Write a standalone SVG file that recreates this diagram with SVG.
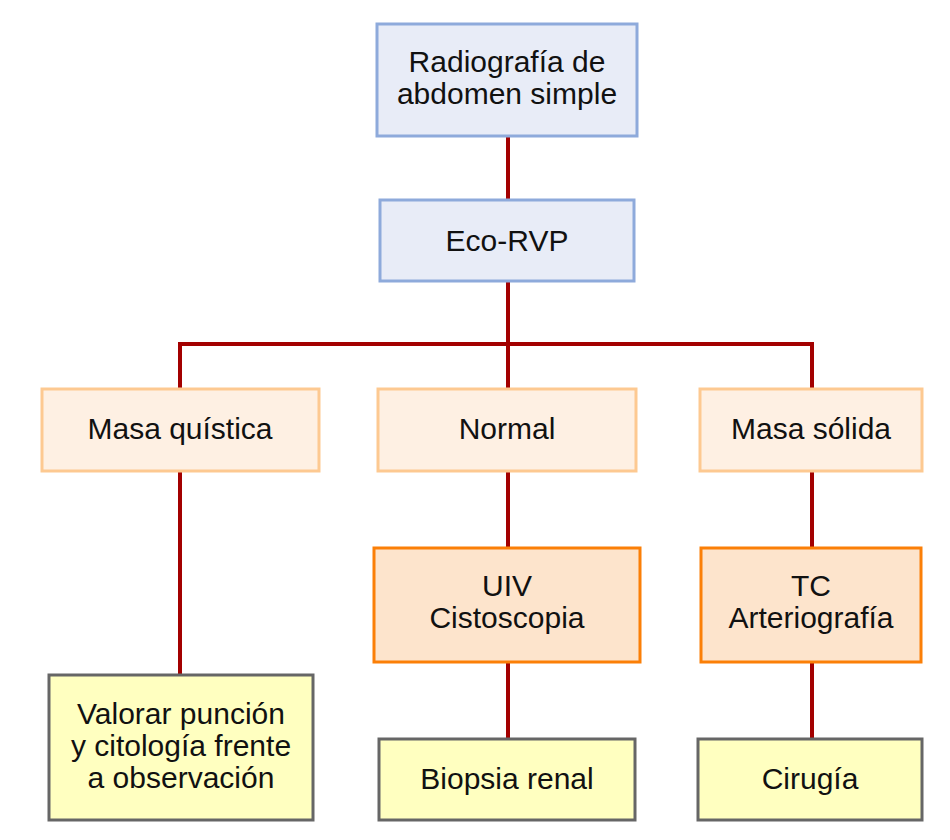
<svg xmlns="http://www.w3.org/2000/svg" width="950" height="840" viewBox="0 0 950 840">
<style>
text{font-family:"Liberation Sans",Arial,sans-serif;font-size:30px;fill:#111;text-anchor:middle}
.blue{fill:#e8ecf7;stroke:#8eaadb;stroke-width:3}
.peach{fill:#fef0e3;stroke:#fdc991;stroke-width:3}
.orange{fill:#fde4cc;stroke:#fb7f07;stroke-width:3}
.yellow{fill:#ffffc0;stroke:#666;stroke-width:3}
.c{fill:none;stroke:#a30000;stroke-width:4}
</style>
<rect width="950" height="840" fill="#fff"/>
<g id="connectors">
<path class="c" d="M508 136V200M508 281V389M180 389V344H812V389M508 471V548M508 662V739M180 471V675M812 471V548M812 662V739"/>
</g>
<g id="n1"><rect class="blue" x="377" y="24" width="260" height="112"/><text x="507" y="72">Radiografía de</text><text x="507" y="104">abdomen simple</text></g>
<g id="n2"><rect class="blue" x="380" y="200" width="254" height="81"/><text x="507" y="251">Eco-RVP</text></g>
<g id="n3"><rect class="peach" x="42" y="389" width="277" height="82"/><text x="180" y="439">Masa quística</text></g>
<g id="n4"><rect class="peach" x="378" y="389" width="258" height="82"/><text x="507" y="439">Normal</text></g>
<g id="n5"><rect class="peach" x="700" y="389" width="222" height="82"/><text x="811" y="439">Masa sólida</text></g>
<g id="n6"><rect class="orange" x="374" y="548" width="266" height="114"/><text x="507" y="596">UIV</text><text x="507" y="628">Cistoscopia</text></g>
<g id="n7"><rect class="orange" x="701" y="548" width="220" height="114"/><text x="811" y="596">TC</text><text x="811" y="628">Arteriografía</text></g>
<g id="n8"><rect class="yellow" x="49" y="675" width="264" height="145"/><text x="181" y="724">Valorar punción</text><text x="181" y="756">y citología frente</text><text x="181" y="788">a observación</text></g>
<g id="n9"><rect class="yellow" x="379" y="739" width="256" height="81"/><text x="507" y="789">Biopsia renal</text></g>
<g id="n10"><rect class="yellow" x="698" y="739" width="224" height="81"/><text x="810" y="789">Cirugía</text></g>
</svg>
